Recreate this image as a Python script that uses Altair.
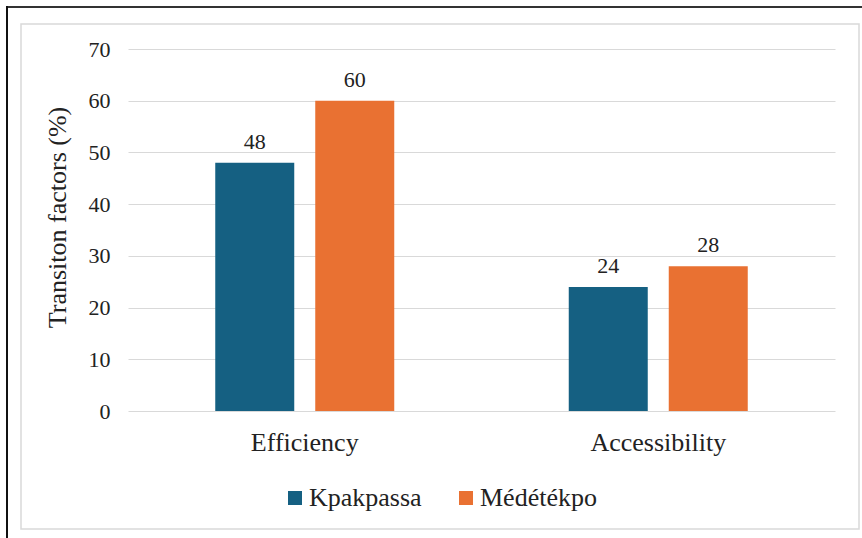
import altair as alt
import pandas as pd

categories = ["Efficiency", "Accessibility"]
series = ["Kpakpassa", "Médétékpo"]
kpakpassa = [48, 24]
medetekpo = [60, 28]
colors = ["#156082", "#E97132"]

rows = []
for i, cat in enumerate(categories):
    rows.append({"factor": cat, "site": series[0], "value": kpakpassa[i]})
    rows.append({"factor": cat, "site": series[1], "value": medetekpo[i]})
df = pd.DataFrame(rows)

FONT = "Liberation Serif"
INK = "#222222"
W, H = 707, 362

x = alt.X("factor:N", sort=categories, title=None,
          scale=alt.Scale(paddingInner=0, paddingOuter=0),
          axis=alt.Axis(labelAngle=0, labelFontSize=26, labelPadding=18,
                        labelFont=FONT, labelColor=INK,
                        domain=False, ticks=False))
xoff = alt.XOffset("site:N", sort=series,
                   scale=alt.Scale(paddingInner=0.21, paddingOuter=0.8725))
y = alt.Y("value:Q", title="Transiton factors (%)",
          scale=alt.Scale(domain=[0, 70]),
          axis=alt.Axis(values=list(range(0, 71, 10)), labelFontSize=22,
                        labelFont=FONT, labelPadding=18, labelColor=INK,
                        domain=False, ticks=False, gridColor="#d9d9d9",
                        titleFont=FONT, titleFontSize=26,
                        titleFontWeight="normal", titleColor=INK,
                        titleAngle=-90, titleX=-71, titleY=168,
                        titleBaseline="middle", titleAlign="center"))
color = alt.Color("site:N", sort=series,
                  scale=alt.Scale(domain=series, range=colors),
                  legend=alt.Legend(title=None, orient="none",
                                    direction="horizontal",
                                    legendX=154, legendY=436,
                                    symbolType="square", symbolSize=196,
                                    symbolStrokeWidth=0, labelFont=FONT,
                                    labelFontSize=26, labelColor=INK,
                                    labelOffset=1, columnPadding=31))

bars = alt.Chart(df).mark_bar().encode(x=x, xOffset=xoff, y=y, color=color)

labels = alt.Chart(df).mark_text(dy=-14, baseline="alphabetic", fontSize=22,
                                 font=FONT, color=INK).encode(
    x=alt.X("factor:N", sort=categories),
    xOffset=alt.XOffset("site:N", sort=series),
    y="value:Q",
    text="value:Q",
)

# outer frame: dark edge on top and left, light box inside
frame_df = pd.DataFrame({"k": [0]})
top_edge = alt.Chart(frame_df).mark_rule(color="#333333", strokeWidth=2).encode(
    x=alt.value(-122), x2=alt.value(740), y=alt.value(-42))
left_edge = alt.Chart(frame_df).mark_rule(color="#111111", strokeWidth=2).encode(
    x=alt.value(-121), y=alt.value(-43), y2=alt.value(495))
box = alt.Chart(frame_df).mark_rect(fill=None, stroke="#d9d9d9",
                                    strokeWidth=1.5).encode(
    x=alt.value(-107), x2=alt.value(731), y=alt.value(-25), y2=alt.value(480))

chart = alt.layer(box, top_edge, left_edge, bars, labels).properties(
    width=W, height=H,
    autosize=alt.AutoSizeParams(type="none"),
    padding={"left": 128, "top": 49, "right": 27, "bottom": 127},
    background="white",
).configure(font=FONT, view=alt.ViewConfig(stroke=None))

chart.save("out.html", embed_options={"renderer": "svg", "actions": False})
